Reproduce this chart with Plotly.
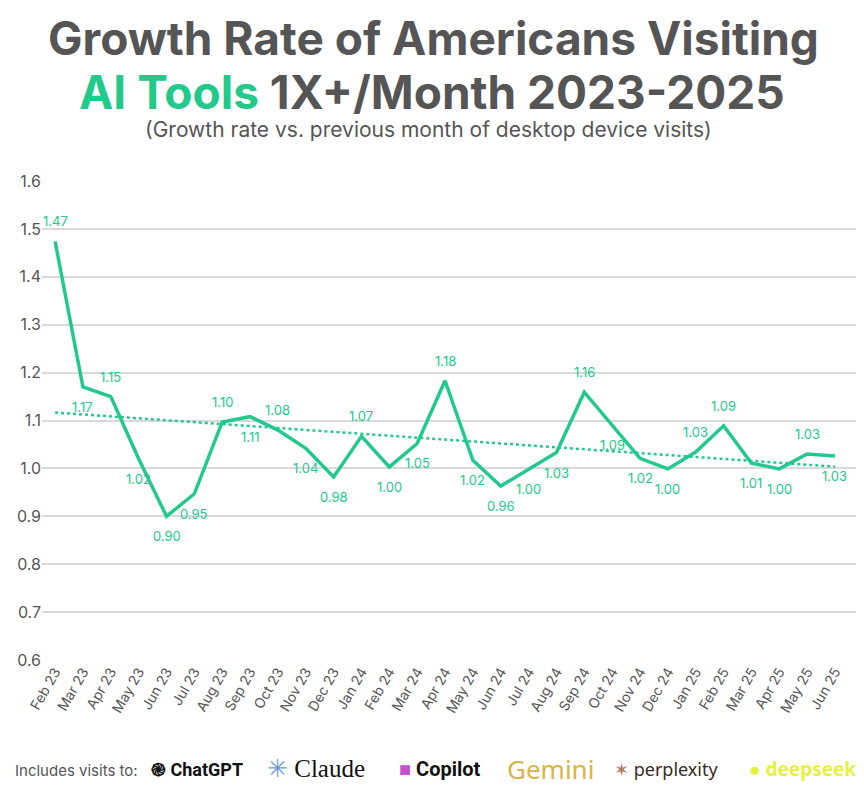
import numpy as np
import plotly.graph_objects as go

# ---- data ----
months = ["Feb 23", "Mar 23", "Apr 23", "May 23", "Jun 23", "Jul 23", "Aug 23",
          "Sep 23", "Oct 23", "Nov 23", "Dec 23", "Jan 24", "Feb 24", "Mar 24",
          "Apr 24", "May 24", "Jun 24", "Jul 24", "Aug 24", "Sep 24", "Oct 24",
          "Nov 24", "Dec 24", "Jan 25", "Feb 25", "Mar 25", "Apr 25", "May 25",
          "Jun 25"]
growth = [1.474, 1.17, 1.15, 1.02, 0.90, 0.947, 1.097, 1.108, 1.08, 1.042, 0.982,
          1.067, 1.003, 1.052, 1.183, 1.017, 0.963, 0.998, 1.033, 1.159, 1.09,
          1.021, 0.999, 1.034, 1.089, 1.011, 0.999, 1.03, 1.026]
# +1 = label above the point, -1 = below
label_side = [1, -1, 1, -1, -1, -1, 1, -1, 1, -1, -1, 1, -1, -1, 1, -1, -1, -1,
              -1, 1, -1, -1, -1, 1, 1, -1, -1, 1, -1]
y_ticks = [0.6, 0.7, 0.8, 0.9, 1.0, 1.1, 1.2, 1.3, 1.4, 1.5, 1.6]

GREEN = "#22C98B"
GRAY = "#555555"
FONT = "Inter"

# linear trendline (like Excel's)
idx = np.arange(len(growth))
slope, icpt = np.polyfit(idx, growth, 1)
trend = slope * idx + icpt

fig = go.Figure()
fig.add_trace(go.Scatter(x=months, y=trend, mode="lines",
                         line=dict(color=GREEN, width=2.5, dash="dot"),
                         hoverinfo="skip", showlegend=False))
fig.add_trace(go.Scatter(x=months, y=growth, mode="lines",
                         line=dict(color=GREEN, width=3.5),
                         showlegend=False))

# point labels
annots = []
for m, v, s in zip(months, growth, label_side):
    annots.append(dict(x=m, y=v, xref="x", yref="y", text=f"{v:.2f}",
                       showarrow=False, yshift=20 * s,
                       font=dict(color=GREEN, size=13, family=FONT)))

# page body has an 8px margin; plot area on the page: x 42..862, y 181..660
OFF = 8
def px(x):
    return (x - 42) / 820.0

def py(y):
    return (660 - y) / 479.0

extra = [
    dict(x=px(433), y=py(38), text="<b>Growth Rate of Americans Visiting</b>",
         font=dict(size=46, color=GRAY, family=FONT)),
    dict(x=px(432), y=py(92),
         text=f"<b><span style='color:{GREEN}'>AI Tools</span> 1X+/Month 2023-2025</b>",
         font=dict(size=46, color=GRAY, family=FONT)),
    dict(x=px(428), y=py(130), text="(Growth rate vs. previous month of desktop device visits)",
         font=dict(size=21, color=GRAY, family=FONT)),
    dict(x=px(76), y=py(770), text="Includes visits to:",
         font=dict(size=15, color=GRAY, family=FONT)),
    dict(x=px(197), y=py(769), text="<b>\u058e ChatGPT</b>",
         font=dict(size=18, color="#111111", family="Roboto")),
    dict(x=px(316), y=py(768),
         text="<span style='color:#6C9AE0'>\u2733</span> Claude",
         font=dict(size=25, color="#111111", family="Liberation Serif")),
    dict(x=px(440), y=py(769),
         text="<span style='color:#C44FD0'>\u25A0</span><b> Copilot</b>",
         font=dict(size=20, color="#111111", family="Roboto")),
    dict(x=px(550), y=py(769), text="Gemini",
         font=dict(size=26, color="#D9B347", family="Noto Sans")),
    dict(x=px(666), y=py(769),
         text="<span style='color:#B07A5C'>\u2736</span> perplexity",
         font=dict(size=18, color="#3A2A22", family="Noto Sans")),
    dict(x=px(802), y=py(769),
         text="<span style='color:#E4F23C'>\u25CF</span> <b>deepseek</b>",
         font=dict(size=19, color="#E4F23C", family="Noto Sans")),
]
for a in extra:
    a.update(xref="paper", yref="paper", showarrow=False,
             xanchor="center", yanchor="middle")
annots += extra

fig.update_layout(
    width=864 - OFF, height=809 - OFF,
    margin=dict(l=42 - OFF, r=2, t=181 - OFF, b=149),
    paper_bgcolor="white", plot_bgcolor="white",
    font=dict(family=FONT, color=GRAY),
    annotations=annots,
    xaxis=dict(type="category", range=[-0.47, 28.97], showgrid=False,
               showline=False, ticks="", tickangle=-60, automargin=False,
               tickfont=dict(size=14, color=GRAY, family=FONT)),
    yaxis=dict(range=[0.6, 1.6], tickvals=y_ticks,
               ticktext=[f"{v:.1f}" for v in y_ticks], automargin=False,
               showgrid=True, gridcolor="#D9D9D9", gridwidth=1.5,
               zeroline=False, showline=False, ticks="",
               tickfont=dict(size=16, color=GRAY, family=FONT)),
)

fig.write_html("out.html")
